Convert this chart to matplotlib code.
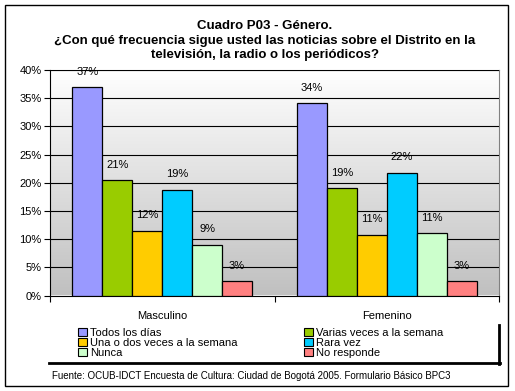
#!/usr/bin/env python3
import numpy as np
import matplotlib
matplotlib.use("Agg")
import matplotlib.pyplot as plt
from matplotlib.patches import Patch, Rectangle
from matplotlib.lines import Line2D
from matplotlib.colors import LinearSegmentedColormap

plt.rcParams["font.family"] = ["Liberation Sans", "DejaVu Sans"]

categories = ["Masculino", "Femenino"]
series = ["Todos los días", "Varias veces a la semana", "Una o dos veces a la semana",
          "Rara vez", "Nunca", "No responde"]
colors = ["#9999FF", "#99CC00", "#FFCC00", "#00CCFF", "#CCFFCC", "#FF8080"]

# percent values per series: [Masculino, Femenino]
values = [
    [36.9, 34.1],
    [20.4, 19.0],
    [11.5, 10.8],
    [18.8, 21.8],
    [9.0, 11.0],
    [2.5, 2.5],
]
labels = [
    ["37%", "34%"],
    ["21%", "19%"],
    ["12%", "11%"],
    ["19%", "22%"],
    ["9%", "11%"],
    ["3%", "3%"],
]
ytick_vals = [0, 5, 10, 15, 20, 25, 30, 35, 40]
source = "Fuente: OCUB-IDCT Encuesta de Cultura: Ciudad de Bogotá 2005. Formulario Básico BPC3"
title = ("Cuadro P03 - Género.\n"
         "¿Con qué frecuencia sigue usted las noticias sobre el Distrito en la\n"
         "televisión, la radio o los periódicos?")

W, H = 515, 391
fig = plt.figure(figsize=(W / 100, H / 100), dpi=100)
fig.patch.set_facecolor("white")

def fx(px):
    return px / W

def fy(py):
    return 1 - py / H

ax = fig.add_axes([fx(50), fy(295.5), fx(499) - fx(50), fy(70) - fy(295.5)])

# gradient background: white on top, grey at the bottom
grad = np.linspace(0, 1, 256).reshape(-1, 1)
cmap = LinearSegmentedColormap.from_list("bg", ["#FFFFFF", "#C0C0C0"])
ax.imshow(grad, aspect="auto", cmap=cmap, extent=[0, 1, 0, 1], origin="upper",
          transform=ax.transAxes, zorder=0)

x = np.arange(len(categories))
w = 1 / 7.5
for i, (name, vals, col) in enumerate(zip(series, values, colors)):
    pos = x + (i - 2.5) * w
    ax.bar(pos, vals, width=w, color=col, edgecolor="black", linewidth=0.9,
           zorder=3, label=name)
    for xp, v, lab in zip(pos, vals, labels[i]):
        ax.annotate(lab, (xp, v), xytext=(0, 7.5), textcoords="offset points",
                    ha="center", va="bottom", fontsize=8, zorder=4)

ax.set_xlim(-0.5, 1.5)
ax.set_ylim(0, 40)
ax.set_yticks(ytick_vals)
ax.set_yticklabels([f"{v}%" for v in ytick_vals], fontsize=8)
ax.yaxis.grid(True, color="black", linewidth=0.8, zorder=1)
ax.set_axisbelow(False)

ax.set_xticks([-0.5, 0.5, 1.5])
ax.set_xticklabels([])
ax.set_xticks(x, minor=True)
ax.set_xticklabels(categories, minor=True, fontsize=8)
ax.tick_params(axis="x", which="minor", length=0, pad=11)
ax.tick_params(axis="x", which="major", length=4, width=0.8, direction="out")
ax.tick_params(axis="y", length=4, width=0.8, direction="out", pad=2)

for s in ["top", "right"]:
    ax.spines[s].set_color("#808080")
    ax.spines[s].set_linewidth(0.8)
for s in ["left", "bottom"]:
    ax.spines[s].set_color("black")
    ax.spines[s].set_linewidth(0.8)

# legend (two columns)
handles = [Patch(facecolor=c, edgecolor="black", linewidth=0.8) for c in colors]
col1 = [0, 2, 4]
col2 = [1, 3, 5]
for idx, xpx in [(col1, 76), (col2, 302)]:
    fig.legend([handles[i] for i in idx], [series[i] for i in idx],
               loc="upper left", bbox_to_anchor=(fx(xpx), fy(326)),
               frameon=False, fontsize=8, handlelength=0.75, handleheight=0.75,
               handletextpad=0.35, labelspacing=0.0, borderpad=0.2,
               borderaxespad=0)

# legend shadow
fig.add_artist(Line2D([fx(49), fx(499.5)], [fy(363), fy(363)], color="black",
                      linewidth=2, transform=fig.transFigure))
fig.add_artist(Line2D([fx(499), fx(499)], [fy(325), fy(363.5)], color="black",
                      linewidth=2, transform=fig.transFigure))

fig.text(fx(265), fy(20), title, ha="center", va="top", fontsize=9.5,
         fontweight="bold", linespacing=1.3)
fig.text(fx(251), fy(376), source, ha="center", va="center", fontsize=7)

# outer border
fig.add_artist(Rectangle((fx(5), fy(386)), fx(508) - fx(5), fy(5) - fy(386),
                         fill=False, edgecolor="black", linewidth=1,
                         transform=fig.transFigure))

fig.savefig("out.png", dpi=100)
